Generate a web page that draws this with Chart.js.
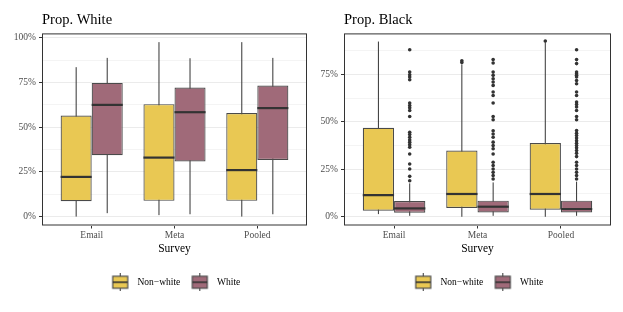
<!DOCTYPE html>
<html>
<head>
<meta charset="utf-8">
<script src="https://cdn.jsdelivr.net/npm/chart.js@4/dist/chart.umd.min.js"></script>
<style>
  html, body { margin: 0; padding: 0; background: #fff; }
  #wrap { position: relative; width: 623px; height: 312px; }
  .panel { position: absolute; top: 0; height: 312px; }
  #p-left { left: 0; width: 311px; }
  #p-right { left: 311px; width: 312px; }
</style>
</head>
<body>
<div id="wrap">
  <div class="panel" id="p-left"><canvas id="chart-white"></canvas></div>
  <div class="panel" id="p-right"><canvas id="chart-black"></canvas></div>
</div>
<script>
// ─── DATA ─────────────────────────────────────────────────
const surveys = ['Email', 'Meta', 'Pooled'];
const groups = ['Non\u2212white', 'White'];
const groupColors = ['#E9C853', '#A06A79'];

// five numbers per survey: [lower whisker, q1, median, q3, upper whisker]
const whiteNonwhite = [[0, 8.6, 22.2, 56.5, 83.6], [0.8, 8.8, 33.0, 62.9, 97.6], [0, 8.8, 26.0, 57.9, 97.6]];
const whiteWhite = [[1.9, 34.3, 62.5, 74.8, 88.8], [1.3, 30.8, 58.4, 72.2, 88.6], [1.3, 31.7, 60.7, 73.3, 88.8]];
const whiteNonwhiteOut = [[], [], []];
const whiteWhiteOut = [[], [], []];

const blackNonwhite = [[1.4, 3.2, 11.4, 46.9, 92.3], [0, 4.6, 12.0, 34.9, 80.3], [0, 3.7, 12.0, 38.9, 92.0]];
const blackWhite = [[0.5, 2.1, 4.4, 8.3, 17.6], [0.5, 2.3, 5.3, 8.5, 18.1], [0.5, 2.3, 4.1, 8.5, 18.5]];
const blackNonwhiteOut = [[], [81.3, 82.2], [92.6]];
const blackWhiteOut = [
  [88.0, 76.2, 74.8, 73.6, 72.2, 59.9, 58.6, 57.4, 56.0, 52.8, 44.5, 43.3, 41.9, 40.5, 39.3, 38.0, 36.6, 33.1, 27.8, 25.2, 21.3, 19.0],
  [82.8, 81.0, 76.2, 74.5, 72.7, 71.0, 69.2, 65.7, 63.9, 59.9, 52.8, 51.1, 45.3, 43.6, 41.9, 39.3, 37.5, 35.8, 33.1, 28.7, 27.0, 25.2, 23.4, 21.7, 19.9],
  [88.0, 82.8, 80.7, 76.2, 75.4, 74.5, 73.6, 71.8, 70.1, 65.7, 63.9, 60.4, 59.2, 57.8, 56.0, 52.8, 51.1, 45.4, 44.0, 42.8, 41.5, 40.1, 38.7, 37.5, 36.3, 34.9, 33.4, 31.7, 28.7, 27.0, 25.2, 23.4, 21.7, 19.9]
];

const whiteTicks = [0, 12.5, 25, 37.5, 50, 62.5, 75, 87.5, 100];
const blackTicks = [0, 12.5, 25, 37.5, 50, 62.5, 75, 87.5];
const majorTicks = [0, 25, 50, 75, 100];

// ─── HELPERS ──────────────────────────────────────────────
const SERIF = "'Liberation Serif', 'DejaVu Serif', serif";
const INK = '#333333';
const DODGE = 0.1875;

function legendGlyph(fill) {
  const c = document.createElement('canvas');
  c.width = 24; c.height = 18;
  const g = c.getContext('2d');
  g.strokeStyle = INK; g.lineWidth = 1;
  g.beginPath(); g.moveTo(11.5, 0); g.lineTo(11.5, 18); g.stroke();
  g.fillStyle = fill;
  g.fillRect(4, 3, 15, 12);
  g.strokeStyle = '#4a4a4a'; g.lineWidth = 1.2;
  g.strokeRect(4, 3, 15, 12);
  g.strokeStyle = INK; g.lineWidth = 1.6;
  g.beginPath(); g.moveTo(4, 9); g.lineTo(19, 9); g.stroke();
  return c;
}

const boxPlugin = {
  id: 'boxes',
  beforeDatasetsDraw(chart) {
    const { ctx } = chart;
    const y = chart.scales.y;
    ctx.save();
    ctx.strokeStyle = INK;
    ctx.lineWidth = 1;
    chart.data.datasets.forEach((ds, di) => {
      if (!ds.stats) return;
      chart.getDatasetMeta(di).data.forEach((bar, i) => {
        const s = ds.stats[i];
        ctx.beginPath();
        ctx.moveTo(bar.x, y.getPixelForValue(s[0]));
        ctx.lineTo(bar.x, y.getPixelForValue(s[4]));
        ctx.stroke();
      });
    });
    ctx.restore();
  },
  afterDatasetsDraw(chart) {
    const { ctx, chartArea: a } = chart;
    const y = chart.scales.y;
    ctx.save();
    ctx.strokeStyle = INK;
    ctx.lineWidth = 2.2;
    chart.data.datasets.forEach((ds, di) => {
      if (!ds.stats) return;
      chart.getDatasetMeta(di).data.forEach((bar, i) => {
        const py = y.getPixelForValue(ds.stats[i][2]);
        ctx.beginPath();
        ctx.moveTo(bar.x - bar.width / 2, py);
        ctx.lineTo(bar.x + bar.width / 2, py);
        ctx.stroke();
      });
    });
    ctx.lineWidth = 1;
    ctx.strokeRect(a.left + 0.5, a.top + 0.5, a.right - a.left - 1, a.bottom - a.top - 1);
    ctx.restore();
  }
};

function outlierPoints(list, offset) {
  const pts = [];
  list.forEach((vals, i) => vals.forEach(v => pts.push({ x: i + 1 + offset, y: v })));
  return pts;
}

function makePanel(id, title, stats, outs, ticks, yMin, yMax, axisWidth, padRight) {
  const datasets = stats.map((st, g) => ({
    type: 'bar',
    label: groups[g],
    stats: st,
    data: st.map((s, i) => ({ x: i + 1, y: [s[1], s[3]] })),
    backgroundColor: groupColors[g],
    borderColor: '#4a4a4a',
    borderWidth: 1.2,
    borderSkipped: false,
    categoryPercentage: 0.75,
    barPercentage: 1.0,
    order: 2
  }));
  outs.forEach((o, g) => datasets.push({
    type: 'scatter',
    label: groups[g] + ' outliers',
    data: outlierPoints(o, g === 0 ? -DODGE : DODGE),
    backgroundColor: INK,
    borderWidth: 0,
    pointRadius: 1.8,
    order: 1
  }));

  return new Chart(document.getElementById(id), {
    type: 'bar',
    data: { datasets },
    plugins: [boxPlugin],
    options: {
      responsive: true,
      maintainAspectRatio: false,
      animation: false,
      layout: { padding: { left: 0, right: padRight, top: 0, bottom: 15 } },
      plugins: {
        title: {
          display: true, text: title, align: 'start', fullSize: false, color: '#000',
          font: { family: SERIF, size: 14.5, weight: 'normal' },
          padding: { top: 11, bottom: 5 }
        },
        legend: {
          position: 'bottom', fullSize: false, onClick: null,
          labels: {
            usePointStyle: true, pointStyleWidth: 24, padding: 8, color: '#000',
            font: { family: SERIF, size: 9.5 },
            generateLabels: () => groups.map((g, i) => ({
              text: g, pointStyle: legendGlyph(groupColors[i]), fillStyle: groupColors[i],
              strokeStyle: INK, lineWidth: 0, hidden: false, datasetIndex: i, fontColor: '#000'
            }))
          }
        },
        tooltip: { enabled: false }
      },
      scales: {
        x: {
          type: 'linear', min: 0.4, max: 3.6, offset: false,
          afterBuildTicks: s => { s.ticks = surveys.map((_, i) => ({ value: i + 1 })); },
          afterFit: s => { s.height = 44; },
          grid: { drawOnChartArea: false, drawTicks: true, tickLength: 3, tickColor: INK, offset: false },
          border: { display: false },
          ticks: { color: '#4d4d4d', padding: 1, font: { family: SERIF, size: 9.5 }, callback: v => surveys[v - 1] },
          title: { display: true, text: 'Survey', color: '#000', padding: { top: 0, bottom: 14 }, font: { family: SERIF, size: 11.5 } }
        },
        y: {
          min: yMin, max: yMax,
          afterBuildTicks: s => { s.ticks = ticks.map(v => ({ value: v })); },
          afterFit: s => { s.width = axisWidth; },
          grid: {
            color: c => majorTicks.includes(c.tick && c.tick.value) ? '#ebebeb' : '#f4f4f4',
            tickColor: c => majorTicks.includes(c.tick && c.tick.value) ? INK : 'rgba(0,0,0,0)',
            tickLength: 3, lineWidth: 1
          },
          border: { display: false },
          ticks: {
            color: '#4d4d4d', padding: 3, font: { family: SERIF, size: 9.5 },
            callback: v => majorTicks.includes(v) ? v + '%' : ''
          }
        }
      }
    }
  });
}

makePanel('chart-white', 'Prop. White', [whiteNonwhite, whiteWhite], [whiteNonwhiteOut, whiteWhiteOut],
  whiteTicks, -5, 102.5, 42, 4);
makePanel('chart-black', 'Prop. Black', [blackNonwhite, blackWhite], [blackNonwhiteOut, blackWhiteOut],
  blackTicks, -4.6, 96.6, 33, 12);
</script>
</body>
</html>
